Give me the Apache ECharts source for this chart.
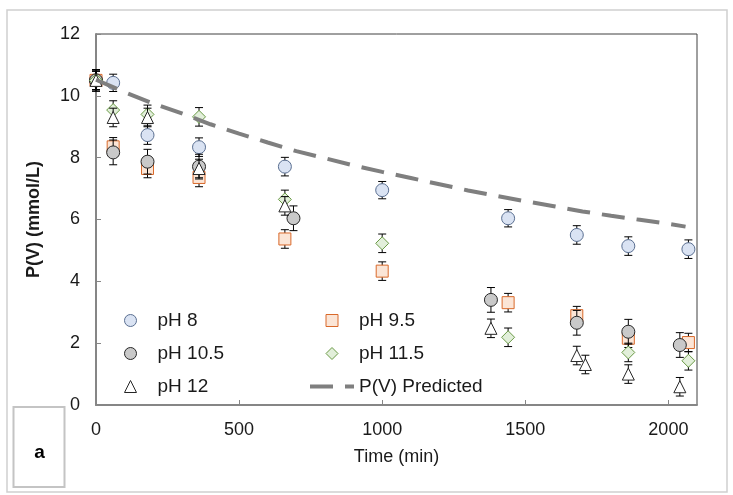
<!DOCTYPE html>
<html>
<head>
<meta charset="utf-8">
<script src="https://cdn.jsdelivr.net/npm/echarts@6/dist/echarts.min.js"></script>
<style>
  html, body { margin: 0; padding: 0; background: #fff; }
  #chart { width: 733px; height: 495px; }
</style>
</head>
<body>
<div id="chart"></div>
<script>
// Measured P(V) concentration (mmol/L) over time (min) at each pH, with error bar half-widths
const timePH8 = [0, 60, 180, 360, 660, 1000, 1440, 1680, 1860, 2070];
const valuesPH8 = [10.5, 10.42, 8.73, 8.34, 7.71, 6.95, 6.04, 5.50, 5.14, 5.04];
const errPH8 = [0.3, 0.28, 0.3, 0.3, 0.3, 0.28, 0.28, 0.3, 0.3, 0.3];

const timePH95 = [0, 60, 180, 360, 660, 1000, 1440, 1680, 1860, 2070];
const valuesPH95 = [10.5, 8.35, 7.65, 7.36, 5.37, 4.33, 3.31, 2.89, 2.16, 2.02];
const errPH95 = [0.3, 0.3, 0.3, 0.3, 0.3, 0.3, 0.3, 0.3, 0.3, 0.3];

const timePH105 = [0, 60, 180, 360, 690, 1380, 1680, 1860, 2040];
const valuesPH105 = [10.5, 8.17, 7.87, 7.71, 6.04, 3.40, 2.66, 2.37, 1.94];
const errPH105 = [0.35, 0.4, 0.4, 0.4, 0.4, 0.4, 0.4, 0.4, 0.4];

const timePH115 = [0, 60, 180, 360, 660, 1000, 1440, 1860, 2070];
const valuesPH115 = [10.5, 9.54, 9.40, 9.32, 6.65, 5.23, 2.19, 1.70, 1.43];
const errPH115 = [0.3, 0.3, 0.3, 0.3, 0.3, 0.3, 0.3, 0.3, 0.3];

const timePH12 = [0, 60, 180, 360, 660, 1380, 1680, 1710, 1860, 2040];
const valuesPH12 = [10.5, 9.30, 9.30, 7.65, 6.44, 2.48, 1.60, 1.31, 1.00, 0.59];
const errPH12 = [0.35, 0.3, 0.3, 0.3, 0.3, 0.3, 0.3, 0.3, 0.3, 0.3];

// Model prediction
const predTime = [0, 100, 200, 300, 400, 500, 600, 700, 800, 900, 1000, 1100, 1200, 1300, 1400, 1500, 1600, 1700, 1800, 1900, 2000, 2060];
const predValues = [10.52, 10.12, 9.75, 9.43, 9.08, 8.78, 8.49, 8.21, 7.98, 7.75, 7.54, 7.34, 7.14, 6.94, 6.76, 6.59, 6.43, 6.26, 6.12, 5.99, 5.86, 5.77];

const xTicks = [0, 500, 1000, 1500, 2000];
const yTicks = [0, 2, 4, 6, 8, 10, 12];

const FONT = "'Liberation Sans', Arial, sans-serif";

// Square-proportioned marker outlines (path icons keep their aspect in the legend)
const ICON_SQUARE = 'path://M0,0H10V10H0Z';
const ICON_DIAMOND = 'path://M5,0L10,5L5,10L0,5Z';
const ICON_TRIANGLE = 'path://M5,0L10,10H0Z';

function pairs(xs, ys, es) {
  return xs.map((x, i) => es ? [x, ys[i], es[i]] : [x, ys[i]]);
}

function errorBarItem(params, api) {
  const x = api.value(0), y = api.value(1), e = api.value(2);
  const hi = api.coord([x, y + e]);
  const lo = api.coord([x, y - e]);
  const half = 4;
  const style = { stroke: '#000', lineWidth: 1, fill: null };
  return {
    type: 'group',
    children: [
      { type: 'line', shape: { x1: hi[0], y1: hi[1], x2: lo[0], y2: lo[1] }, style },
      { type: 'line', shape: { x1: hi[0] - half, y1: hi[1], x2: hi[0] + half, y2: hi[1] }, style },
      { type: 'line', shape: { x1: lo[0] - half, y1: lo[1], x2: lo[0] + half, y2: lo[1] }, style }
    ]
  };
}

const groups = [
  { name: 'pH 8', t: timePH8, v: valuesPH8, e: errPH8, symbol: 'circle', size: 13, fill: '#dae3f3', stroke: '#5a6f91' },
  { name: 'pH 9.5', t: timePH95, v: valuesPH95, e: errPH95, symbol: 'rect', size: 12, fill: '#fbe5d6', stroke: '#d9692a' },
  { name: 'pH 10.5', t: timePH105, v: valuesPH105, e: errPH105, symbol: 'circle', size: 13, fill: '#c9c9c9', stroke: '#262626' },
  { name: 'pH 11.5', t: timePH115, v: valuesPH115, e: errPH115, symbol: 'diamond', size: 13, fill: '#e2efda', stroke: '#6a9a45' },
  { name: 'pH 12', t: timePH12, v: valuesPH12, e: errPH12, symbol: 'triangle', size: 12, fill: '#ffffff', stroke: '#262626' }
];

const series = [];
groups.forEach((g, i) => {
  series.push({
    name: g.name + ' error',
    type: 'custom',
    renderItem: errorBarItem,
    data: pairs(g.t, g.v, g.e),
    encode: { x: 0, y: 1 },
    z: 2 + i * 2,
    silent: true
  });
  series.push({
    name: g.name,
    type: 'scatter',
    data: pairs(g.t, g.v),
    symbol: g.symbol,
    symbolSize: g.size,
    itemStyle: { color: g.fill, borderColor: g.stroke, borderWidth: 1, opacity: 1 },
    z: 3 + i * 2
  });
});
series.push({
  name: 'P(V) Predicted',
  type: 'line',
  data: pairs(predTime, predValues),
  symbol: 'none',
  showSymbol: false,
  lineStyle: { color: '#7f7f7f', width: 4, type: [23, 12] },
  itemStyle: { color: '#7f7f7f' },
  z: 20
});

const legendCommon = {
  orient: 'vertical',
  itemWidth: 44,
  itemHeight: 12,
  itemGap: 14,
  padding: 0,
  selectedMode: false,
  symbolKeepAspect: true,
  itemStyle: { borderWidth: 1 },
  textStyle: { fontFamily: FONT, fontSize: 19, color: '#1a1a1a' },
  lineStyle: { width: 4 }
};

const option = {
  animation: false,
  backgroundColor: '#fff',
  grid: {
    left: 96, top: 34, right: 36, bottom: 90,
    show: true, borderColor: '#404040', borderWidth: 1
  },
  legend: [
    // marker-only column: its box starts at the centred icon
    Object.assign({}, legendCommon, {
      left: 124, top: 311,
      data: [
        { name: 'pH 8' },
        { name: 'pH 10.5' },
        { name: 'pH 12', icon: ICON_TRIANGLE }
      ]
    }),
    Object.assign({}, legendCommon, {
      left: 308, top: 311,
      data: [
        { name: 'pH 9.5', icon: ICON_SQUARE },
        { name: 'pH 11.5', icon: ICON_DIAMOND },
        { name: 'P(V) Predicted', itemStyle: { opacity: 0, color: 'rgba(0,0,0,0)', borderWidth: 0 } }
      ]
    })
  ],
  xAxis: {
    type: 'value',
    min: 0, max: 2100, interval: 500,
    name: 'Time (min)',
    nameLocation: 'middle',
    nameGap: 43,
    nameTextStyle: { fontFamily: FONT, fontSize: 18, color: '#1a1a1a' },
    axisLine: { show: true, lineStyle: { color: '#868686', width: 2 } },
    axisTick: { show: true, inside: true, length: 5, lineStyle: { color: '#868686' } },
    axisLabel: {
      fontFamily: FONT, fontSize: 18, color: '#1a1a1a', margin: 16,
      showMaxLabel: false,
      formatter: v => xTicks.includes(v) ? String(v) : ''
    },
    splitLine: { show: false }
  },
  yAxis: {
    type: 'value',
    min: 0, max: 12, interval: 2,
    name: 'P(V) (mmol/L)',
    nameLocation: 'middle',
    nameGap: 53,
    nameTextStyle: { fontFamily: FONT, fontSize: 18, fontWeight: 'bold', color: '#1a1a1a' },
    axisLine: { show: true, lineStyle: { color: '#868686', width: 2 } },
    axisTick: { show: true, inside: true, length: 5, lineStyle: { color: '#868686' } },
    axisLabel: {
      fontFamily: FONT, fontSize: 18, color: '#1a1a1a', margin: 16,
      formatter: v => yTicks.includes(v) ? String(v) : ''
    },
    splitLine: { show: false }
  },
  graphic: [
    {
      type: 'rect', silent: true, z: -1,
      shape: { x: 7, y: 10, width: 720, height: 482 },
      style: { fill: null, stroke: '#d0d0d0', lineWidth: 1.5 }
    },
    {
      type: 'rect', silent: true,
      shape: { x: 13.5, y: 407, width: 51, height: 80 },
      style: { fill: '#fff', stroke: '#c4c4c4', lineWidth: 2 }
    },
    {
      type: 'text', silent: true,
      style: { text: 'a', x: 39.5, y: 453, align: 'center', verticalAlign: 'middle',
               fontFamily: FONT, fontSize: 19, fontWeight: 'bold', fill: '#000' }
    }
  ],
  series: series
};

const chart = echarts.init(document.getElementById('chart'), null, { renderer: 'canvas' });
chart.setOption(option);
</script>
</body>
</html>
